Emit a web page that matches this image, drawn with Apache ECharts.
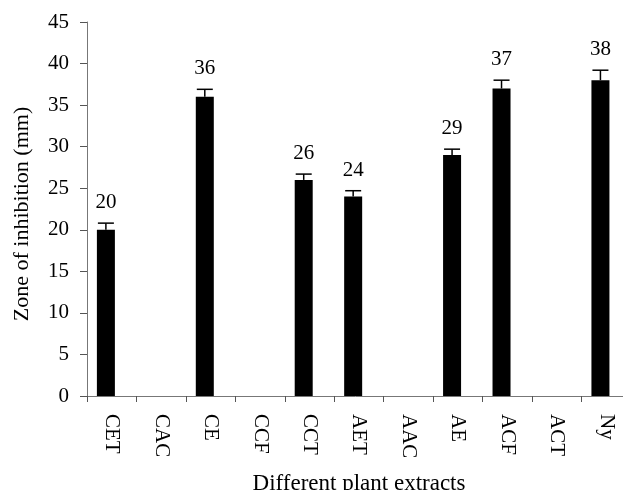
<!DOCTYPE html>
<html>
<head>
<meta charset="utf-8">
<script src="https://cdn.jsdelivr.net/npm/echarts@6/dist/echarts.min.js"></script>
<style>
html,body{margin:0;padding:0;background:#fff;}
#chart{width:623px;height:490px;}
</style>
</head>
<body>
<div id="chart"></div>
<script>
const categories = ['CET','CAC','CE','CCF','CCT','AET','AAC','AE','ACF','ACT','Ny'];
const values = [20, 0, 36, 0, 26, 24, 0, 29, 37, 0, 38];
const errors = [0.8, 0, 0.9, 0, 0.7, 0.7, 0, 0.7, 1.0, 0, 1.2];
const valueLabels = ['20', '', '36', '', '26', '24', '', '29', '37', '', '38'];
const yTicks = {min: 0, max: 45, interval: 5};

const FONT = 'Liberation Serif, Times New Roman, serif';
const chart = echarts.init(document.getElementById('chart'), null, {renderer: 'canvas'});

const data = categories.map((c, i) => [i, values[i], errors[i]]);

chart.setOption({
  animation: false,
  backgroundColor: '#fff',
  grid: {left: 87, top: 22, width: 544, height: 374, outerBoundsMode: 'none', containLabel: false},
  xAxis: {
    type: 'category',
    data: categories,
    boundaryGap: true,
    name: 'Different plant extracts',
    nameLocation: 'middle',
    nameGap: 76,
    nameTextStyle: {fontFamily: FONT, fontSize: 23, color: '#000'},
    axisLine: {lineStyle: {color: '#777', width: 1}},
    axisTick: {show: true, length: 6, lineStyle: {color: '#555'}},
    axisLabel: {rotate: -90, margin: 18, fontFamily: FONT, fontSize: 21, color: '#000', interval: 0}
  },
  yAxis: {
    type: 'value',
    min: yTicks.min, max: yTicks.max, interval: yTicks.interval,
    name: 'Zone of inhibition (mm)',
    nameLocation: 'middle',
    nameGap: 54,
    nameTextStyle: {fontFamily: FONT, fontSize: 22, color: '#000', padding: [0, 10, 0, 0]},
    axisLine: {show: true, lineStyle: {color: '#777', width: 1}},
    axisTick: {show: true, length: 7, lineStyle: {color: '#555'}},
    splitLine: {show: false},
    axisLabel: {margin: 18, fontFamily: FONT, fontSize: 21, color: '#000'}
  },
  series: [{
    type: 'custom',
    clip: false,
    encode: {x: 0, y: 1},
    data: data,
    renderItem: function (params, api) {
      const i = api.value(0), v = api.value(1), e = api.value(2);
      if (!v) return null;
      const band = api.size([1, 0])[0];
      const base = api.coord([i, 0]);
      const top = api.coord([i, v]);
      const errTop = api.coord([i, v + e]);
      const w = band * 0.364;
      const x0 = base[0] - band / 2 + band * 0.2;
      const cx = x0 + w / 2;
      return {
        type: 'group',
        children: [
          {type: 'rect', shape: {x: x0, y: top[1], width: w, height: base[1] - top[1]}, style: {fill: '#000'}},
          {type: 'line', shape: {x1: cx, y1: top[1], x2: cx, y2: errTop[1]}, style: {stroke: '#000', lineWidth: 1.5}},
          {type: 'line', shape: {x1: cx - 8, y1: errTop[1], x2: cx + 8, y2: errTop[1]}, style: {stroke: '#000', lineWidth: 1.5}},
          {type: 'text', x: cx, y: errTop[1] - 10, style: {text: valueLabels[params.dataIndex], align: 'center', verticalAlign: 'bottom', fontFamily: FONT, fontSize: 21, fill: '#000'}}
        ]
      };
    }
  }]
});
</script>
</body>
</html>
